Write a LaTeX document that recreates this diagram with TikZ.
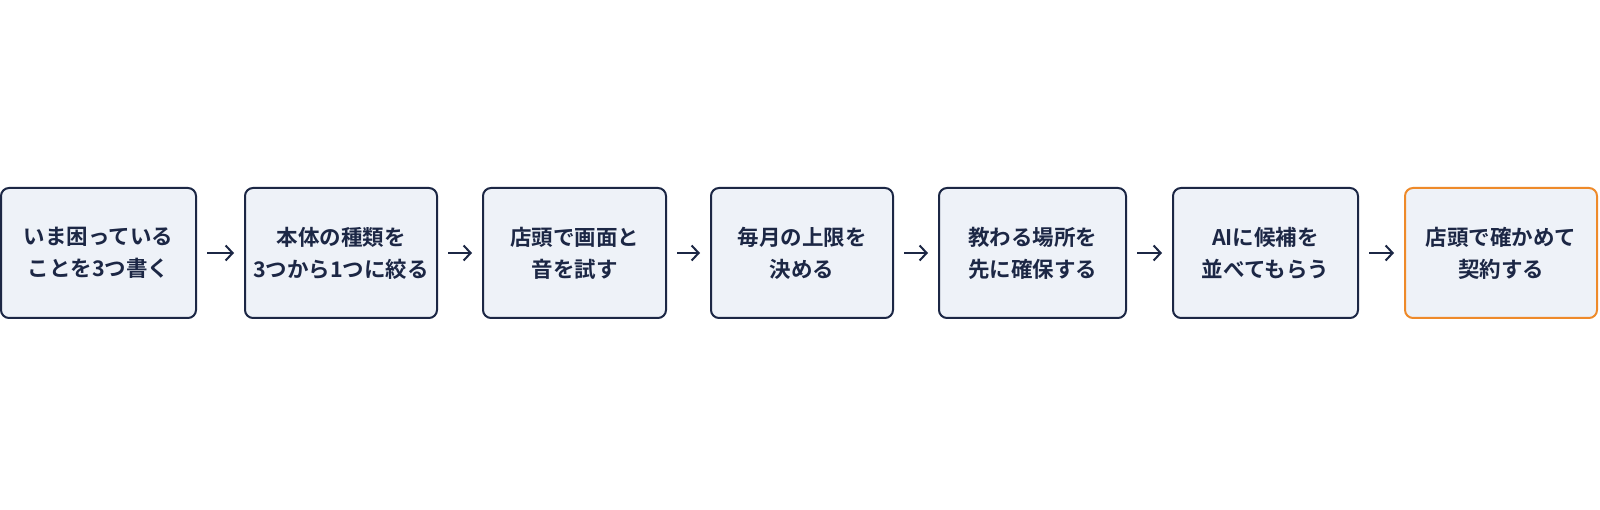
\documentclass[tikz,border=0pt]{standalone}
\usepackage{fontspec}
\newfontfamily\jp{Noto Sans CJK JP Bold}
\usetikzlibrary{arrows.meta}
\definecolor{navy}{HTML}{1C2745}
\definecolor{boxfill}{HTML}{EEF2F8}
\definecolor{accent}{HTML}{EE8A2A}
\tikzset{
  stepbox/.style={draw=navy, line width=2pt, fill=boxfill, rounded corners=8pt,
    minimum height=130pt, inner sep=0pt, align=center, text=navy,
    font=\jp\fontsize{21.5}{32}\selectfont},
  finalbox/.style={stepbox, draw=accent},
  flow/.style={draw=navy, line width=2pt, shorten <=10pt, shorten >=10pt,
    -{Straight Barb[length=7pt,width=15pt,line width=2pt]}}
}
\begin{document}
\begin{tikzpicture}[x=1pt,y=1pt]
\useasboundingbox[fill=white] (0,0) rectangle (1600,509);
\node[stepbox, minimum width=195pt] (b1) at (98.5,256) {いま困っている\\ことを3つ書く};
\node[stepbox, minimum width=192pt] (b2) at (341,256) {本体の種類を\\3つから1つに絞る};
\node[stepbox, minimum width=183pt] (b3) at (574.5,256) {店頭で画面と\\音を試す};
\node[stepbox, minimum width=182pt] (b4) at (802,256) {毎月の上限を\\決める};
\node[stepbox, minimum width=187pt] (b5) at (1032.5,256) {教わる場所を\\先に確保する};
\node[stepbox, minimum width=185pt] (b6) at (1265.5,256) {AIに候補を\\並べてもらう};
\node[finalbox, minimum width=192pt] (b7) at (1501,256) {店頭で確かめて\\契約する};
\draw[flow] (b1) -- (b2);
\draw[flow] (b2) -- (b3);
\draw[flow] (b3) -- (b4);
\draw[flow] (b4) -- (b5);
\draw[flow] (b5) -- (b6);
\draw[flow] (b6) -- (b7);
\end{tikzpicture}
\end{document}
